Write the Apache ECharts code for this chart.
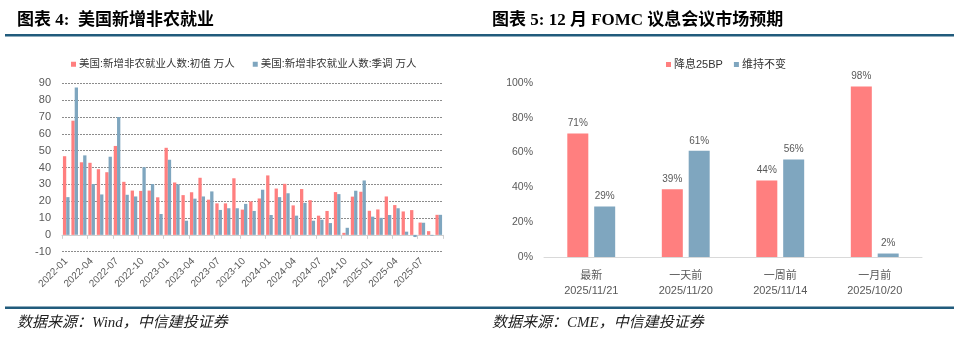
<!DOCTYPE html>
<html>
<head>
<meta charset="utf-8">
<script src="https://cdn.jsdelivr.net/npm/echarts@6/dist/echarts.min.js"></script>
<style>
html,body{margin:0;padding:0;background:#fff;}
#c{width:960px;height:343px;}
</style>
</head>
<body>
<div id="c"></div>
<script>
// ---- Left chart: US nonfarm payrolls (万人) ----
const months = [
  '2022-01','2022-02','2022-03','2022-04','2022-05','2022-06','2022-07','2022-08','2022-09','2022-10','2022-11','2022-12',
  '2023-01','2023-02','2023-03','2023-04','2023-05','2023-06','2023-07','2023-08','2023-09','2023-10','2023-11','2023-12',
  '2024-01','2024-02','2024-03','2024-04','2024-05','2024-06','2024-07','2024-08','2024-09','2024-10','2024-11','2024-12',
  '2025-01','2025-02','2025-03','2025-04','2025-05','2025-06','2025-07','2025-08','2025-09'
];
const initialValues = [
  46.7, 67.8, 43.1, 42.8, 39.0, 37.2, 52.8, 31.5, 26.3, 26.1, 26.3, 22.3,
  51.7, 31.1, 23.6, 25.3, 33.9, 20.9, 18.7, 18.7, 33.6, 15.0, 19.9, 21.6,
  35.3, 27.5, 30.3, 17.5, 27.2, 20.6, 11.4, 14.2, 25.4, 1.2, 22.7, 25.6,
  14.3, 15.1, 22.8, 17.7, 13.9, 14.7, 7.3, 2.2, 11.9
];
const revisedValues = [
  22.4, 87.5, 47.2, 30.2, 24.0, 46.4, 70.0, 23.8, 22.8, 40.2, 30.2, 12.4,
  44.6, 30.0, 8.4, 21.5, 22.8, 25.8, 14.8, 15.8, 15.8, 18.4, 14.2, 26.8,
  11.8, 22.4, 24.7, 11.4, 19.0, 8.4, 9.0, 7.0, 24.2, 4.2, 26.2, 32.3,
  10.8, 10.1, 11.8, 15.8, 1.9, -1.3, 7.2, -0.4, 11.9
];
const leftSeriesNames = ['美国:新增非农就业人数:初值 万人', '美国:新增非农就业人数:季调 万人'];

// ---- Right chart: Dec FOMC market expectations ----
const fomcCategories = ['最新\n2025/11/21', '一天前\n2025/11/20', '一周前\n2025/11/14', '一月前\n2025/10/20'];
const cut25Values = [71, 39, 44, 98];
const holdValues = [29, 61, 56, 2];
const rightSeriesNames = ['降息25BP', '维持不变'];

const RED = '#FF7F7F';
const BLUE = '#7FA6BF';
const RULE = '#215B7C';
const GRAY = '#595959';
const SANS = "Arial, 'Liberation Sans', 'Noto Sans CJK SC', sans-serif";
const TITLEFONT = "'Liberation Serif', 'Noto Sans CJK SC', serif";

const chart = echarts.init(document.getElementById('c'), null, {renderer: 'canvas'});

const option = {
  animation: false,
  backgroundColor: '#fff',
  textStyle: {fontFamily: SANS},
  graphic: [
    {type: 'text', left: 17, top: 12, style: {text: '图表 4:  美国新增非农就业', font: "bold 17px " + TITLEFONT, fill: '#000'}},
    {type: 'rect', shape: {x: 5, y: 34, width: 475, height: 2.5}, style: {fill: RULE}},
    {type: 'text', left: 492, top: 12, style: {text: '图表 5: 12 月 FOMC 议息会议市场预期', font: "bold 17px " + TITLEFONT, fill: '#000'}},
    {type: 'rect', shape: {x: 480, y: 34, width: 474, height: 2.5}, style: {fill: RULE}},
    {type: 'rect', shape: {x: 5, y: 306.5, width: 475, height: 2.5}, style: {fill: RULE}},
    {type: 'rect', shape: {x: 480, y: 306.5, width: 474, height: 2.5}, style: {fill: RULE}},
    {type: 'text', left: 17, top: 316, style: {text: '数据来源：Wind，中信建投证券', font: "italic 15px " + TITLEFONT, fill: '#222'}},
    {type: 'text', left: 492, top: 316, style: {text: '数据来源：CME，中信建投证券', font: "italic 15px " + TITLEFONT, fill: '#222'}}
  ],
  legend: [
    {
      data: leftSeriesNames,
      left: 66, top: 54,
      icon: 'rect', itemWidth: 5, itemHeight: 5, itemGap: 18,
      textStyle: {fontSize: 10.5, color: '#333', fontFamily: SANS, padding: [0, 0, 0, -2]}
    },
    {
      data: rightSeriesNames,
      left: 661, top: 54,
      icon: 'rect', itemWidth: 5, itemHeight: 5, itemGap: 11,
      textStyle: {fontSize: 11, color: '#333', fontFamily: SANS, padding: [0, 0, 0, -2]}
    }
  ],
  grid: [
    {left: 62, right: 517, top: 83.3, bottom: 91.3},
    {left: 544, right: 38, top: 83, bottom: 86}
  ],
  xAxis: [
    {
      gridIndex: 0, type: 'category', data: months, position: 'bottom',
      axisLine: {show: false, onZero: false},
      axisTick: {show: false},
      axisLabel: {interval: 2, rotate: 45, fontSize: 10, color: GRAY, margin: 8}
    },
    {
      gridIndex: 0, type: 'category', data: months, position: 'bottom',
      axisLine: {show: true, onZero: true, lineStyle: {color: '#D0D0D0', width: 1}},
      axisTick: {show: true, interval: 2, length: 4, lineStyle: {color: '#D0D0D0'}},
      axisLabel: {show: false}
    },
    {
      gridIndex: 1, type: 'category', data: fomcCategories,
      axisLine: {show: true, lineStyle: {color: '#D9D9D9', width: 1}},
      axisTick: {show: false},
      axisLabel: {fontSize: 11, color: GRAY, margin: 11, lineHeight: 15}
    }
  ],
  yAxis: [
    {
      gridIndex: 0, type: 'value', min: -10, max: 90, interval: 10,
      axisLine: {show: false}, axisTick: {show: false},
      axisLabel: {fontSize: 11, color: GRAY, margin: 11},
      splitLine: {show: true, lineStyle: {color: '#8C8C8C', type: [2, 1], width: 1}}
    },
    {
      gridIndex: 1, type: 'value', min: 0, max: 100, interval: 20,
      axisLine: {show: false}, axisTick: {show: false},
      axisLabel: {fontSize: 10.5, color: GRAY, margin: 11, formatter: '{value}%'},
      splitLine: {show: false}
    }
  ],
  series: [
    {
      name: leftSeriesNames[0], type: 'bar', xAxisIndex: 0, yAxisIndex: 0,
      data: initialValues, itemStyle: {color: RED},
      barGap: '0%', barCategoryGap: '22%'
    },
    {
      name: leftSeriesNames[1], type: 'bar', xAxisIndex: 0, yAxisIndex: 0,
      data: revisedValues, itemStyle: {color: BLUE},
      barGap: '0%', barCategoryGap: '22%'
    },
    {
      name: rightSeriesNames[0], type: 'bar', xAxisIndex: 2, yAxisIndex: 1,
      data: cut25Values, itemStyle: {color: RED},
      barWidth: 21, barGap: '28%',
      label: {show: true, position: 'top', distance: 5, fontSize: 10, color: GRAY, formatter: '{c}%'}
    },
    {
      name: rightSeriesNames[1], type: 'bar', xAxisIndex: 2, yAxisIndex: 1,
      data: holdValues, itemStyle: {color: BLUE},
      barWidth: 21, barGap: '28%',
      label: {show: true, position: 'top', distance: 5, fontSize: 10, color: GRAY, formatter: '{c}%'}
    }
  ]
};
chart.setOption(option);
</script>
</body>
</html>
